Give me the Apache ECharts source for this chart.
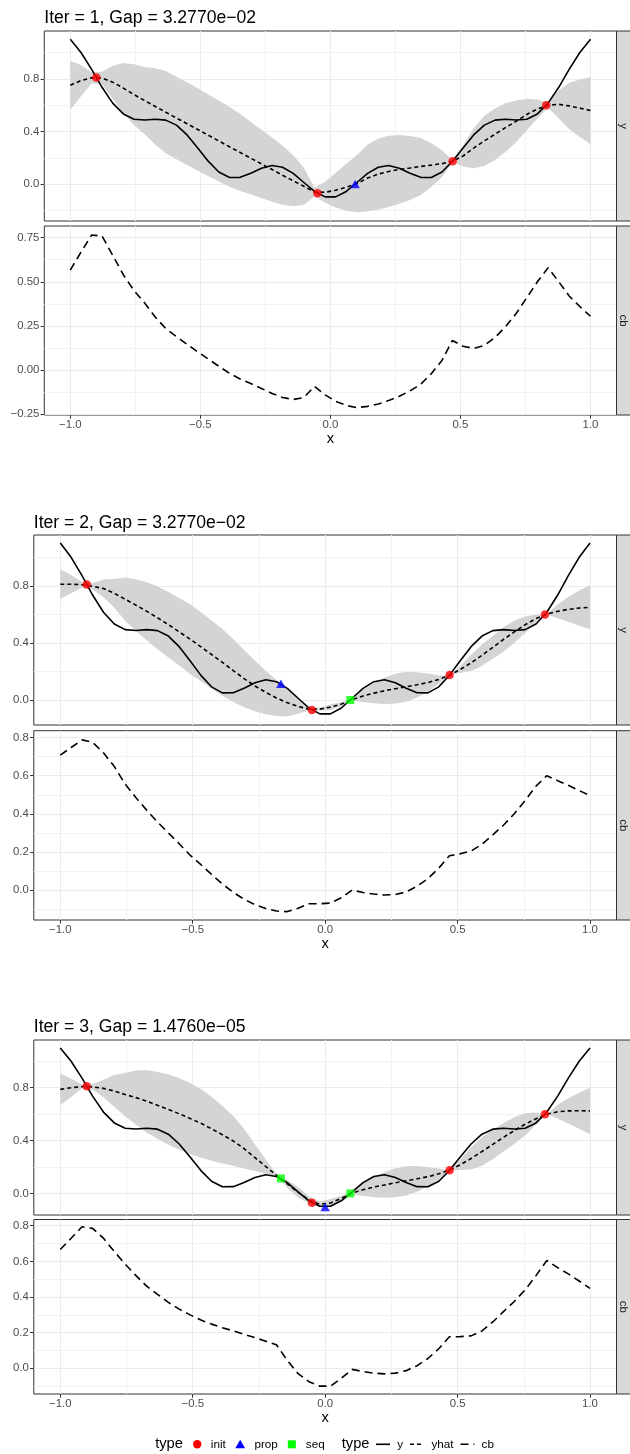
<!DOCTYPE html>
<html><head><meta charset="utf-8">
<script src="https://cdn.jsdelivr.net/npm/echarts@6/dist/echarts.min.js"></script>
<style>html,body{margin:0;padding:0;background:#fff}#c{width:630px;height:1454px}</style>
</head><body><div id="c"></div>
<script>
// ---------------- data ----------------
const xs = [-1, -0.959, -0.918, -0.878, -0.837, -0.796, -0.755, -0.714, -0.673, -0.633, -0.592, -0.551, -0.510, -0.469, -0.429, -0.388, -0.347, -0.306, -0.265, -0.224, -0.184, -0.143, -0.102, -0.061, -0.020,
  0.020, 0.061, 0.102, 0.143, 0.184, 0.224, 0.265, 0.306, 0.347, 0.388, 0.429, 0.469, 0.510, 0.551, 0.592, 0.633, 0.673, 0.714, 0.755, 0.796, 0.837, 0.878, 0.918, 0.959, 1];

const yTrue = [1.100, 1.000, 0.872, 0.736, 0.616, 0.534, 0.494, 0.488, 0.494, 0.487, 0.449, 0.375, 0.276, 0.174, 0.094, 0.052, 0.053, 0.084, 0.122, 0.143, 0.130, 0.083, 0.014, -0.054, -0.095,
  -0.095, -0.054, 0.014, 0.083, 0.130, 0.143, 0.122, 0.084, 0.053, 0.052, 0.094, 0.174, 0.276, 0.375, 0.449, 0.487, 0.494, 0.488, 0.494, 0.534, 0.616, 0.736, 0.872, 1.000, 1.100];

const yhat1 = [0.752, 0.787, 0.808, 0.806, 0.775, 0.730, 0.680, 0.635, 0.590, 0.547, 0.503, 0.460, 0.416, 0.372, 0.329, 0.285, 0.242, 0.198, 0.155, 0.112, 0.069, 0.027, -0.015, -0.058, -0.060,
  -0.045, -0.022, 0.005, 0.048, 0.078, 0.098, 0.113, 0.124, 0.136, 0.146, 0.157, 0.175, 0.215, 0.275, 0.330, 0.380, 0.430, 0.478, 0.530, 0.572, 0.600, 0.607, 0.595, 0.578, 0.560];
const cb1 = [0.566, 0.668, 0.765, 0.759, 0.650, 0.540, 0.450, 0.380, 0.300, 0.235, 0.190, 0.146, 0.103, 0.062, 0.022, -0.018, -0.050, -0.076, -0.104, -0.132, -0.155, -0.166, -0.155, -0.092, -0.140,
  -0.176, -0.200, -0.212, -0.205, -0.192, -0.172, -0.148, -0.118, -0.080, -0.020, 0.055, 0.168, 0.135, 0.123, 0.140, 0.185, 0.245, 0.320, 0.410, 0.500, 0.580, 0.500, 0.420, 0.360, 0.305];
const hi1 = [0.938, 0.906, 0.851, 0.853, 0.900, 0.920, 0.910, 0.890, 0.880, 0.859, 0.816, 0.774, 0.729, 0.682, 0.636, 0.588, 0.534, 0.472, 0.414, 0.356, 0.293, 0.220, 0.125, -0.024, 0.020,
  0.086, 0.156, 0.222, 0.301, 0.348, 0.368, 0.374, 0.366, 0.352, 0.312, 0.259, 0.182, 0.295, 0.427, 0.520, 0.575, 0.615, 0.636, 0.650, 0.644, 0.620, 0.714, 0.770, 0.796, 0.815];

const yhat2 = [0.812, 0.812, 0.808, 0.797, 0.782, 0.748, 0.707, 0.665, 0.622, 0.577, 0.529, 0.479, 0.427, 0.374, 0.320, 0.265, 0.208, 0.152, 0.100, 0.055, 0.016, -0.017, -0.043, -0.062, -0.062,
  -0.048, -0.027, 0.004, 0.030, 0.050, 0.066, 0.081, 0.095, 0.108, 0.124, 0.145, 0.175, 0.215, 0.262, 0.315, 0.370, 0.425, 0.478, 0.528, 0.572, 0.602, 0.622, 0.636, 0.645, 0.650];
const cb2 = [0.708, 0.748, 0.788, 0.775, 0.720, 0.648, 0.556, 0.484, 0.418, 0.357, 0.300, 0.243, 0.183, 0.133, 0.082, 0.032, -0.012, -0.048, -0.077, -0.097, -0.110, -0.113, -0.095, -0.072, -0.072,
  -0.068, -0.040, 0.000, -0.013, -0.021, -0.026, -0.023, -0.010, 0.020, 0.060, 0.115, 0.180, 0.190, 0.205, 0.240, 0.290, 0.340, 0.400, 0.470, 0.545, 0.600, 0.574, 0.550, 0.522, 0.496];
const hi2 = [0.916, 0.876, 0.828, 0.819, 0.844, 0.848, 0.858, 0.846, 0.826, 0.797, 0.758, 0.715, 0.671, 0.615, 0.558, 0.498, 0.428, 0.352, 0.277, 0.207, 0.142, 0.079, 0.009, -0.052, -0.052,
  -0.028, -0.014, 0.008, 0.073, 0.121, 0.158, 0.185, 0.200, 0.196, 0.188, 0.175, 0.170, 0.240, 0.319, 0.390, 0.450, 0.510, 0.556, 0.586, 0.599, 0.604, 0.670, 0.722, 0.768, 0.804];

const yhat3 = [0.787, 0.800, 0.808, 0.806, 0.795, 0.775, 0.748, 0.725, 0.697, 0.667, 0.636, 0.603, 0.568, 0.531, 0.490, 0.445, 0.398, 0.340, 0.272, 0.205, 0.140, 0.074, 0.010, -0.048, -0.080,
  -0.070, -0.035, 0.005, 0.030, 0.050, 0.066, 0.082, 0.097, 0.112, 0.128, 0.150, 0.178, 0.218, 0.265, 0.318, 0.372, 0.425, 0.476, 0.524, 0.566, 0.600, 0.618, 0.625, 0.626, 0.624];
const cb3 = [0.667, 0.730, 0.794, 0.785, 0.730, 0.655, 0.585, 0.520, 0.460, 0.415, 0.370, 0.332, 0.300, 0.271, 0.248, 0.228, 0.210, 0.190, 0.172, 0.152, 0.132, 0.045, -0.030, -0.075, -0.100,
  -0.100, -0.055, -0.006, -0.018, -0.027, -0.031, -0.027, -0.013, 0.015, 0.055, 0.110, 0.177, 0.178, 0.182, 0.210, 0.260, 0.318, 0.375, 0.440, 0.520, 0.605, 0.565, 0.530, 0.490, 0.449];
const hi3 = [0.907, 0.870, 0.822, 0.827, 0.860, 0.895, 0.911, 0.930, 0.934, 0.919, 0.902, 0.874, 0.836, 0.791, 0.732, 0.662, 0.586, 0.490, 0.372, 0.258, 0.148, 0.103, 0.050, -0.021, -0.060,
  -0.040, -0.015, 0.016, 0.078, 0.127, 0.163, 0.191, 0.207, 0.209, 0.201, 0.190, 0.179, 0.258, 0.348, 0.426, 0.484, 0.532, 0.577, 0.608, 0.612, 0.595, 0.671, 0.720, 0.762, 0.799];

const initX = [-0.9, -0.05, 0.47, 0.83];
const initY = [0.81, -0.068, 0.176, 0.600];
const propX = [0.095, -0.167, 0.0];
const propY = [0.002, 0.115, -0.1];
const seqX = [[], [0.095], [-0.167, 0.095]];
const seqY = [[], [0.002], [0.115, 0.002]];

const titles = ['Iter = 1, Gap = 3.2770e\u221202', 'Iter = 2, Gap = 3.2770e\u221202', 'Iter = 3, Gap = 1.4760e\u221205'];

const xTickVals = [-1, -0.5, 0, 0.5, 1];
const xTickLabels = ['\u22121.0', '\u22120.5', '0.0', '0.5', '1.0'];
const xMinorVals = [-0.75, -0.25, 0.25, 0.75];

const yTickVals = [0, 0.4, 0.8];
const yTickLabels = ['0.0', '0.4', '0.8'];
const cb1TickVals = [-0.25, 0, 0.25, 0.5, 0.75];
const cb1TickLabels = ['\u22120.25', '0.00', '0.25', '0.50', '0.75'];
const cbTickVals = [0, 0.2, 0.4, 0.6, 0.8];
const cbTickLabels = ['0.0', '0.2', '0.4', '0.6', '0.8'];
const y1Minor = [-0.2, 0.2, 0.6, 1.0];
const yMinor = [0.2, 0.6, 1.0];
const cb1Minor = [-0.125, 0.125, 0.375, 0.625];
const cbMinor = [-0.1, 0.1, 0.3, 0.5, 0.7];

// ---------------- layout ----------------
const FONT = '"Liberation Sans", Arial, Helvetica, sans-serif';
const layout = [
  {left: 44.3, width: 572.2, titleTop: 9.5,
   y: {top: 31, h: 190, min: -0.278, max: 1.163, ticks: yTickVals, labels: yTickLabels, minor: y1Minor},
   c: {top: 226, h: 189, min: -0.254, max: 0.816, ticks: cb1TickVals, labels: cb1TickLabels, minor: cb1Minor}},
  {left: 33.8, width: 582.7, titleTop: 513.7,
   y: {top: 535, h: 190, min: -0.173, max: 1.156, ticks: yTickVals, labels: yTickLabels, minor: yMinor},
   c: {top: 730.7, h: 189.3, min: -0.157, max: 0.836, ticks: cbTickVals, labels: cbTickLabels, minor: cbMinor}},
  {left: 33.8, width: 582.7, titleTop: 1018,
   y: {top: 1040, h: 175, min: -0.161, max: 1.160, ticks: yTickVals, labels: yTickLabels, minor: yMinor},
   c: {top: 1219.5, h: 174.5, min: -0.144, max: 0.835, ticks: cbTickVals, labels: cbTickLabels, minor: cbMinor}}
];
const series3 = [
  {yhat: yhat1, cb: cb1, hi: hi1},
  {yhat: yhat2, cb: cb2, hi: hi2},
  {yhat: yhat3, cb: cb3, hi: hi3}
];

function labelFor(vals, labels) {
  return function (v) {
    let best = 0, d = Infinity;
    for (let i = 0; i < vals.length; i++) { const dd = Math.abs(vals[i] - v); if (dd < d) { d = dd; best = i; } }
    return labels[best];
  };
}
const pairs = (xa, ya) => xa.map((x, i) => [x, ya[i]]);

const grids = [], xAxes = [], yAxes = [], series = [], graphics = [], titleOpts = [];

function addPanel(left, width, cfg, showX) {
  const gi = grids.length;
  grids.push({left: left, top: cfg.top, width: width, height: cfg.h, show: true,
    borderColor: '#333333', borderWidth: 1, backgroundColor: '#fff', containLabel: false, outerBoundsMode: 'none'});
  const xi = xAxes.length, yi = yAxes.length;
  xAxes.push({gridIndex: gi, type: 'value', min: -1.1, max: 1.1, position: 'bottom',
    axisLine: {show: false, onZero: false},
    axisTick: {show: showX, customValues: xTickVals, length: 3.7, lineStyle: {color: '#333333', width: 1}},
    axisLabel: {show: showX, customValues: xTickVals, formatter: labelFor(xTickVals, xTickLabels), margin: 4.5,
      color: '#4D4D4D', fontSize: 11.4, fontFamily: FONT},
    splitLine: {show: true, lineStyle: {color: '#EBEBEB', width: 1}},
    name: showX ? 'x' : '', nameLocation: 'middle', nameGap: 16,
    nameTextStyle: {fontSize: 14.67, color: '#000', fontFamily: FONT}});
  xAxes.push({gridIndex: gi, type: 'value', min: -1.1, max: 1.1, position: 'bottom',
    axisLine: {show: false, onZero: false}, axisTick: {show: false, customValues: xMinorVals}, axisLabel: {show: false},
    splitLine: {show: true, lineStyle: {color: '#F2F2F2', width: 1}}});
  yAxes.push({gridIndex: gi, type: 'value', min: cfg.min, max: cfg.max, position: 'left',
    axisLine: {show: false, onZero: false},
    axisTick: {show: true, customValues: cfg.ticks, length: 3.7, lineStyle: {color: '#333333', width: 1}},
    axisLabel: {show: true, customValues: cfg.ticks, formatter: labelFor(cfg.ticks, cfg.labels), margin: 5,
      color: '#4D4D4D', fontSize: 11.4, fontFamily: FONT},
    splitLine: {show: true, lineStyle: {color: '#EBEBEB', width: 1}}});
  yAxes.push({gridIndex: gi, type: 'value', min: cfg.min, max: cfg.max, position: 'left',
    axisLine: {show: false, onZero: false}, axisTick: {show: false, customValues: cfg.minor}, axisLabel: {show: false},
    splitLine: {show: true, lineStyle: {color: '#F2F2F2', width: 1}}});
  return {xi: xi, yi: yi};
}

function strip(top, h, text) {
  graphics.push({type: 'rect', shape: {x: 616.5, y: top, width: 20, height: h},
    style: {fill: '#D9D9D9', stroke: '#333333', lineWidth: 1}, z: 10});
  graphics.push({type: 'text', x: 623.5, y: top + h / 2, rotation: -Math.PI / 2,
    style: {text: text, align: 'center', verticalAlign: 'middle', fill: '#1A1A1A', font: '11.4px ' + FONT}, z: 11});
}

layout.forEach((L, p) => {
  titleOpts.push({text: titles[p], left: L.left, top: L.titleTop, padding: 0,
    textStyle: {fontSize: 17.6, fontWeight: 'normal', color: '#000', fontFamily: FONT}});
  const a = addPanel(L.left, L.width, L.y, false);
  const b = addPanel(L.left, L.width, L.c, true);
  const S = series3[p];
  // confidence band
  series.push({type: 'custom', xAxisIndex: a.xi, yAxisIndex: a.yi, silent: true, z: 1, clip: true,
    data: [[0, 0]],
    renderItem: function (params, api) {
      const pts = [];
      for (let i = 0; i < xs.length; i++) pts.push(api.coord([xs[i], S.hi[i]]));
      for (let i = xs.length - 1; i >= 0; i--) pts.push(api.coord([xs[i], S.cb[i]]));
      return {type: 'polygon', shape: {points: pts}, style: {fill: '#D4D4D4'}};
    }});
  // true function
  series.push({type: 'line', xAxisIndex: a.xi, yAxisIndex: a.yi, data: pairs(xs, yTrue), symbol: 'none',
    silent: true, z: 2, lineStyle: {color: '#000', width: 1.6}});
  // prediction
  series.push({type: 'line', xAxisIndex: a.xi, yAxisIndex: a.yi, data: pairs(xs, S.yhat), symbol: 'none',
    silent: true, z: 2, lineStyle: {color: '#000', width: 1.6, type: [4, 3], cap: 'butt'}});
  // points
  series.push({type: 'scatter', xAxisIndex: a.xi, yAxisIndex: a.yi, data: pairs(initX, initY), symbol: 'circle',
    symbolSize: 8.5, silent: true, z: 3, itemStyle: {color: '#FF0000'}});
  if (seqX[p].length) series.push({type: 'scatter', xAxisIndex: a.xi, yAxisIndex: a.yi, data: pairs(seqX[p], seqY[p]),
    symbol: 'rect', symbolSize: 8, silent: true, z: 3, itemStyle: {color: '#00FF00'}});
  series.push({type: 'scatter', xAxisIndex: a.xi, yAxisIndex: a.yi, data: [[propX[p], propY[p]]],
    symbol: 'triangle', symbolSize: [9.5, 8.5], silent: true, z: 4, itemStyle: {color: '#0000FF'}});
  // lower bound
  series.push({type: 'line', xAxisIndex: b.xi, yAxisIndex: b.yi, data: pairs(xs, S.cb), symbol: 'none',
    silent: true, z: 2, lineStyle: {color: '#000', width: 1.6, type: [8, 5], cap: 'butt'}});
  strip(L.y.top, L.y.h, 'y');
  strip(L.c.top, L.c.h, 'cb');
});

// ---------------- legend ----------------
const LY = 1444.3;
function ltext(x, t, size) {
  graphics.push({type: 'text', x: x, y: LY, style: {text: t, align: 'left', verticalAlign: 'middle',
    fill: '#000', font: size + 'px ' + FONT}});
}
ltext(155.2, 'type', 14.67);
graphics.push({type: 'circle', shape: {cx: 197.2, cy: LY, r: 4.2}, style: {fill: '#FF0000'}});
ltext(210.8, 'init', 11.7);
graphics.push({type: 'polygon', shape: {points: [[240.2, LY - 4.6], [245.1, LY + 3.9], [235.3, LY + 3.9]]}, style: {fill: '#0000FF'}});
ltext(254.4, 'prop', 11.7);
graphics.push({type: 'rect', shape: {x: 287.8, y: LY - 4, width: 8, height: 8}, style: {fill: '#00FF00'}});
ltext(305.8, 'seq', 11.7);
ltext(341.8, 'type', 14.67);
graphics.push({type: 'line', shape: {x1: 376, y1: LY, x2: 390, y2: LY}, style: {stroke: '#000', lineWidth: 1.6}});
ltext(397.3, 'y', 11.7);
graphics.push({type: 'line', shape: {x1: 410, y1: LY, x2: 424, y2: LY}, style: {stroke: '#000', lineWidth: 1.6, lineDash: [4, 3]}});
ltext(431.5, 'yhat', 11.7);
graphics.push({type: 'line', shape: {x1: 460.5, y1: LY, x2: 474.5, y2: LY}, style: {stroke: '#000', lineWidth: 1.6, lineDash: [8, 5]}});
ltext(481.6, 'cb', 11.7);

const chart = echarts.init(document.getElementById('c'), null, {renderer: 'canvas'});
chart.setOption({
  animation: false,
  backgroundColor: '#fff',
  title: titleOpts,
  grid: grids,
  xAxis: xAxes,
  yAxis: yAxes,
  series: series,
  graphic: graphics
});
</script>
</body></html>
